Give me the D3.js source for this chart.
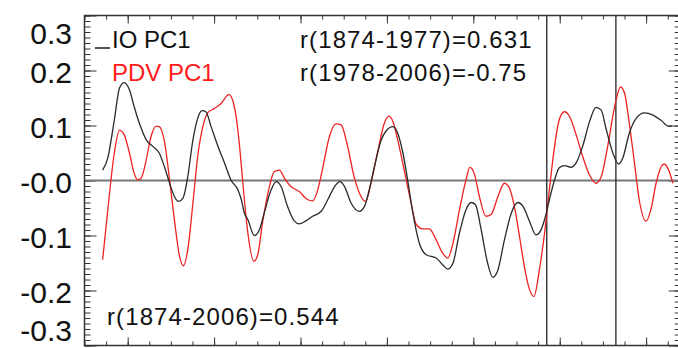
<!DOCTYPE html>
<html>
<head>
<meta charset="utf-8">
<script src="https://cdn.jsdelivr.net/npm/d3@7"></script>
<style>
    body { margin: 0; background: #fff; }
    svg { display: block; font-family: "Liberation Sans", Arial, Helvetica, sans-serif; }
</style>
</head>
<body>
<svg id="chart" width="678" height="348"></svg>
<script>
// IO PC1 (black)
const ioYears = [1874.2,1875.4,1876.9,1878.1,1879.2,1880.4,1881.5,1882.7,1884.3,1885.8,1887.3,1888.5,1889.7,1890.8,1891.8,1892.8,1893.9,1895.1,1896.2,1897.2,1898.1,1899.3,1900.9,1902.4,1903.9,1905.5,1906.3,1907.0,1907.8,1909.3,1910.5,1911.6,1913.2,1914.4,1915.5,1917.0,1918.6,1919.7,1921.3,1922.8,1924.8,1926.3,1927.9,1929.1,1930.2,1931.7,1933.6,1934.8,1935.9,1937.1,1938.7,1939.8,1941.4,1942.5,1943.7,1944.8,1946.0,1947.5,1949.1,1951.4,1952.9,1954.1,1955.3,1956.8,1958.3,1959.5,1960.5,1961.8,1963.3,1964.5,1965.6,1967.2,1968.8,1970.3,1971.5,1973.0,1974.5,1975.3,1976.5,1977.6,1978.8,1979.9,1981.1,1982.6,1983.8,1985.3,1986.9,1988.4,1989.6,1990.7,1992.3,1993.6,1994.6,1996.1,1997.7,1999.6,2001.6,2003.5,2005.1,2006.0];
const ioValues = [0.019,0.041,0.110,0.168,0.178,0.165,0.134,0.104,0.074,0.062,0.050,0.025,-0.005,-0.029,-0.038,-0.032,0.007,0.074,0.113,0.127,0.125,0.098,0.062,0.032,0.001,-0.017,-0.035,-0.059,-0.071,-0.100,-0.089,-0.059,-0.017,-0.002,-0.011,-0.047,-0.074,-0.079,-0.073,-0.065,-0.056,-0.035,-0.011,-0.002,-0.011,-0.041,-0.056,-0.047,-0.017,0.025,0.074,0.090,0.098,0.086,0.050,0.001,-0.059,-0.114,-0.135,-0.141,-0.153,-0.161,-0.150,-0.095,-0.053,-0.040,-0.044,-0.089,-0.150,-0.176,-0.165,-0.108,-0.059,-0.040,-0.047,-0.074,-0.099,-0.095,-0.071,-0.035,0.001,0.023,0.027,0.024,0.032,0.062,0.107,0.133,0.128,0.095,0.050,0.030,0.041,0.086,0.113,0.123,0.119,0.109,0.099,0.099];

// PDV PC1 (red)
const pdvYears = [1874.2,1875.4,1876.9,1878.1,1879.2,1880.4,1881.5,1882.3,1883.1,1884.3,1885.4,1886.6,1887.3,1888.5,1889.7,1890.8,1892.0,1892.9,1893.9,1895.1,1896.2,1897.4,1898.5,1900.1,1901.6,1903.4,1904.3,1905.1,1905.9,1906.6,1907.8,1909.2,1910.1,1911.2,1912.8,1913.9,1915.1,1916.3,1917.8,1919.7,1921.7,1922.8,1924.0,1925.2,1926.7,1928.2,1929.4,1930.9,1932.4,1934.0,1935.1,1936.3,1937.8,1939.4,1940.4,1941.4,1942.5,1944.0,1945.6,1946.8,1948.3,1949.8,1951.4,1952.9,1954.1,1955.3,1956.8,1958.3,1959.2,1960.2,1961.4,1962.9,1964.1,1965.7,1967.2,1968.2,1969.5,1970.7,1971.8,1973.0,1974.0,1975.3,1976.5,1977.6,1978.8,1979.9,1981.1,1982.3,1983.8,1985.3,1986.9,1988.4,1989.6,1991.1,1992.7,1994.1,1995.0,1996.1,1997.3,1998.4,2000.0,2001.1,2002.3,2003.5,2004.2,2005.2,2006.2];
const pdvValues = [-0.144,-0.053,0.050,0.091,0.083,0.050,0.013,0.001,0.004,0.038,0.080,0.099,0.098,0.071,0.001,-0.071,-0.138,-0.155,-0.126,-0.041,0.044,0.098,0.123,0.131,0.140,0.156,0.146,0.116,0.062,0.001,-0.095,-0.147,-0.135,-0.077,-0.011,0.016,0.019,0.004,-0.011,-0.020,-0.035,-0.037,-0.017,0.025,0.080,0.103,0.101,0.062,0.007,-0.029,-0.038,-0.005,0.050,0.104,0.117,0.107,0.074,0.019,-0.041,-0.080,-0.088,-0.088,-0.108,-0.132,-0.141,-0.114,-0.053,0.001,0.024,0.013,-0.029,-0.065,-0.062,-0.029,-0.005,-0.011,-0.047,-0.102,-0.156,-0.198,-0.211,-0.162,-0.095,-0.017,0.062,0.111,0.125,0.116,0.083,0.044,0.010,-0.005,0.007,0.062,0.134,0.170,0.159,0.104,0.032,-0.035,-0.074,-0.053,-0.005,0.025,0.030,0.019,-0.005];

const breakYears = [1977, 1993];
const yTickValues = [-0.3, -0.2, -0.1, 0.0, 0.1, 0.2, 0.3];
const yTickLabels = ["-0.3", "-0.2", "-0.1", "-0.0", "0.1", "0.2", "0.3"];
const legendNames = ["IO PC1", "PDV PC1"];
const corrLabels = ["r(1874-1977)=0.631", "r(1978-2006)=-0.75", "r(1874-2006)=0.544"];

const frameColor = "#333";
const ioColor = "#2a2a2a";
const pdvColor = "#ee2222";
const fontSize = 24;
const labelFontSize = 30;

const svg = d3.select("#chart");

const x = d3.scaleLinear().domain([1870, 2008]).range([84.5, 680.7]);
const y = d3.scaleLinear().domain([-0.3, 0.3]).range([345.5, 15.5]);

const plotLeft = x.range()[0];
const plotRight = x.range()[1];
const plotTop = y.range()[1];
const plotBottom = y.range()[0];

// ticks: minor every 5 yr / 0.01, major every 20 yr / 0.1
const xMinor = d3.range(1870, 2009, 5);
const xMajor = d3.range(1880, 2009, 20);
const yMinor = d3.range(-30, 31).map(d => d / 100);

const drawAxis = (axis, tx, ty) =>
{
    const g = svg.append("g")
        .attr("transform", `translate(${tx},${ty})`)
        .call(axis);
    g.select(".domain").remove();
    g.selectAll("line").attr("stroke", frameColor);
    return g;
}

drawAxis(d3.axisBottom(x).tickValues(xMinor).tickSize(4).tickFormat(""), 0, plotTop);
drawAxis(d3.axisBottom(x).tickValues(xMajor).tickSize(8).tickFormat(""), 0, plotTop);
drawAxis(d3.axisTop(x).tickValues(xMinor).tickSize(4).tickFormat(""), 0, plotBottom);
drawAxis(d3.axisTop(x).tickValues(xMajor).tickSize(8).tickFormat(""), 0, plotBottom);

drawAxis(d3.axisRight(y).tickValues(yMinor).tickSize(6).tickFormat(""), plotLeft, 0);
drawAxis(d3.axisLeft(y).tickValues(yMinor).tickSize(6).tickFormat(""), plotRight, 0);
drawAxis(d3.axisRight(y).tickValues(yTickValues).tickSize(12).tickFormat(""), plotLeft, 0);
drawAxis(d3.axisLeft(y).tickValues(yTickValues).tickSize(12).tickFormat(""), plotRight, 0);

// y labels; the end ones sit inside the frame like in the figure
const labelShift = (v) => v > 0.25 ? 18 : (v < -0.25 ? -15 : 2);
svg.append("g")
    .selectAll("text")
    .data(yTickValues)
    .join("text")
    .attr("x", 72)
    .attr("y", d => y(d) + labelShift(d))
    .attr("dy", "0.35em")
    .attr("text-anchor", "end")
    .attr("font-size", labelFontSize)
    .attr("fill", "#111")
    .text((d, i) => yTickLabels[i]);

// zero line
svg.append("line")
    .attr("x1", plotLeft).attr("x2", plotRight)
    .attr("y1", y(0)).attr("y2", y(0))
    .attr("stroke", "#777")
    .attr("stroke-width", 2);

// period break lines
svg.append("g")
    .selectAll("line")
    .data(breakYears)
    .join("line")
    .attr("x1", d => x(d)).attr("x2", d => x(d))
    .attr("y1", plotTop).attr("y2", plotBottom)
    .attr("stroke", "#222")
    .attr("stroke-width", 1.3);

const line = d3.line()
    .x(d => x(d[0]))
    .y(d => y(d[1]))
    .curve(d3.curveMonotoneX);

svg.append("path")
    .datum(d3.zip(pdvYears, pdvValues))
    .attr("fill", "none")
    .attr("stroke", pdvColor)
    .attr("stroke-width", 1.3)
    .attr("d", line);

svg.append("path")
    .datum(d3.zip(ioYears, ioValues))
    .attr("fill", "none")
    .attr("stroke", ioColor)
    .attr("stroke-width", 1.3)
    .attr("d", line);

// frame
svg.append("rect")
    .attr("x", plotLeft).attr("y", plotTop)
    .attr("width", plotRight - plotLeft)
    .attr("height", plotBottom - plotTop)
    .attr("fill", "none")
    .attr("stroke", frameColor)
    .attr("stroke-width", 1.5);

// legend
svg.append("line")
    .attr("x1", 95).attr("x2", 110)
    .attr("y1", 48).attr("y2", 48)
    .attr("stroke", "#555")
    .attr("stroke-width", 2);

svg.append("text")
    .attr("x", 112).attr("y", 48)
    .attr("font-size", fontSize)
    .attr("fill", "#111")
    .text(legendNames[0]);

svg.append("text")
    .attr("x", 112).attr("y", 81)
    .attr("font-size", fontSize)
    .attr("fill", "#ff1a1a")
    .text(legendNames[1]);

// correlation notes, IDL spaces them out a bit more
const corrPos = [[300, 48], [300, 81], [107, 325]];
svg.append("g")
    .selectAll("text")
    .data(corrLabels)
    .join("text")
    .attr("x", (d, i) => corrPos[i][0])
    .attr("y", (d, i) => corrPos[i][1])
    .attr("font-size", fontSize)
    .attr("letter-spacing", 1.1)
    .attr("fill", "#111")
    .text(d => d);
</script>
</body>
</html>
